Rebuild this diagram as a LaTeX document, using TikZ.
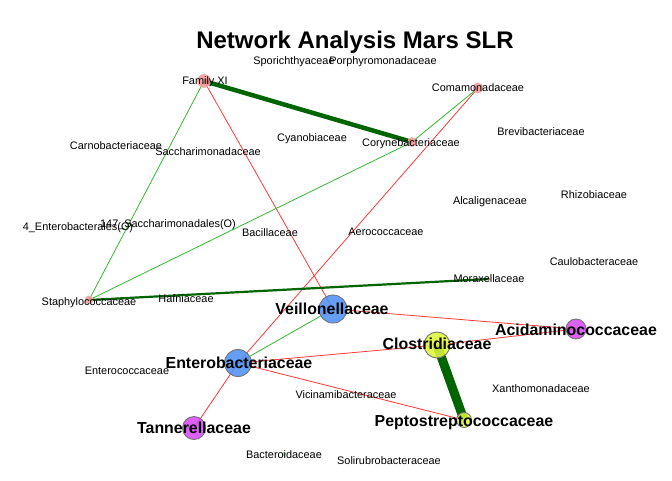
\documentclass[tikz,border=0pt]{standalone}
\usepackage{fontspec}
\setmainfont{Liberation Sans}
\definecolor{egreen}{RGB}{50,185,50}
\definecolor{ered}{RGB}{255,55,55}
\definecolor{dkgreen}{RGB}{0,100,0}
\definecolor{nblue}{RGB}{80,145,245}
\definecolor{nmag}{RGB}{215,75,245}
\definecolor{nyel}{RGB}{222,245,60}
\definecolor{npink}{RGB}{240,150,150}
\definecolor{nlgreen}{RGB}{150,230,160}
\tikzset{
  vtx/.style={circle, draw=gray!90!black, line width=0.9pt, inner sep=0pt, fill opacity=0.88},
  pvtx/.style={circle, draw=npink!80!white, line width=0.6pt, inner sep=0pt, fill=npink, fill opacity=0.85},
  lab/.style={inner sep=0pt, anchor=center, text height=7.7pt, text depth=0pt, font=\fontsize{10.9}{12}\selectfont},
  blab/.style={inner sep=0pt, anchor=center, text height=11.4pt, text depth=0pt, font=\fontsize{15.9}{17}\selectfont\bfseries},
  thinG/.style={egreen, line width=0.8pt},
  thinR/.style={ered, line width=0.8pt},
  thickG/.style={dkgreen, line width=#1},
}
\begin{document}
\begin{tikzpicture}[x=1pt,y=-1pt]
\useasboundingbox (0,0) rectangle (672,480);
% node positions
\coordinate (famxi) at (204,81);
\coordinate (comam) at (478,88);
\coordinate (coryne) at (412,142);
\coordinate (staph) at (89,300);
\coordinate (morax) at (489,279);
\coordinate (veil) at (333,309);
\coordinate (entero) at (238,363);
\coordinate (tann) at (194,428);
\coordinate (clos) at (437,345);
\coordinate (pepto) at (464,420);
\coordinate (acid) at (576,329);
\coordinate (bacter) at (284,454);
% edges
\draw[thickG=4.5pt] (famxi) -- (coryne);
\draw[thinG] (famxi) -- (staph);
\draw[thinR] (famxi) -- (veil);
\draw[thinG] (comam) -- (coryne);
\draw[thinR] (comam) -- (entero);
\draw[thinG] (coryne) -- (staph);
\draw[thickG=2.2pt] (staph) -- (morax);
\draw[thinG] (veil) -- (entero);
\draw[thinR] (veil) -- (acid);
\draw[thinR] (entero) -- (clos);
\draw[thinR] (entero) -- (pepto);
\draw[thinR] (entero) -- (tann);
\draw[thinR] (clos) -- (acid);
\draw[thickG=9pt] (clos) -- (pepto);
% vertices
\node[pvtx, minimum size=13pt] (famxiV) at (famxi) {};
\node[pvtx, minimum size=10pt] (comamV) at (comam) {};
\node[pvtx, minimum size=9pt] (coryneV) at (coryne) {};
\node[pvtx, minimum size=8pt] (staphV) at (staph) {};
\node[pvtx, minimum size=3pt, draw=none] (moraxV) at (morax) {};
\node[circle, inner sep=0pt, minimum size=4pt, fill=nlgreen] (bacterV) at (bacter) {};
\node[vtx, fill=nblue, minimum size=28pt] (veilV) at (veil) {};
\node[vtx, fill=nblue, minimum size=27pt] (enteroV) at (entero) {};
\node[vtx, fill=nmag, minimum size=23pt] (tannV) at (tann) {};
\node[vtx, fill=nyel, minimum size=26pt] (closV) at (clos) {};
\node[vtx, fill=nyel, minimum size=15pt] (peptoV) at (pepto) {};
\node[vtx, fill=nmag, minimum size=20pt] (acidV) at (acid) {};
% title
\node[inner sep=0pt, anchor=base, font=\fontsize{24}{28}\selectfont\bfseries] (title) at (355,48) {Network Analysis Mars SLR};
% small labels
\node[lab] (l1) at (294,61) {Sporichthyaceae};
\node[lab] (l2) at (383,61) {Porphyromonadaceae};
\node[lab] (l3) at (205,81) {Family XI};
\node[lab] (l4) at (478,88) {Comamonadaceae};
\node[lab] (l5) at (541,132) {Brevibacteriaceae};
\node[lab] (l6) at (312,138) {Cyanobiaceae};
\node[lab] (l7) at (411,143) {Corynebacteriaceae};
\node[lab] (l8) at (116,146) {Carnobacteriaceae};
\node[lab] (l9) at (208,152) {Saccharimonadaceae};
\node[lab] (l10) at (490,201) {Alcaligenaceae};
\node[lab] (l11) at (594,195) {Rhizobiaceae};
\node[lab] (l12) at (78,227) {4\_Enterobacterales(O)};
\node[lab] (l13) at (168,224) {147\_Saccharimonadales(O)};
\node[lab] (l14) at (270,233) {Bacillaceae};
\node[lab] (l15) at (386,232) {Aerococcaceae};
\node[lab] (l16) at (594,262) {Caulobacteraceae};
\node[lab] (l17) at (489,279) {Moraxellaceae};
\node[lab] (l18) at (89,302) {Staphylococcaceae};
\node[lab] (l19) at (186,299) {Hafniaceae};
\node[lab] (l20) at (127,371) {Enterococcaceae};
\node[lab] (l21) at (346,395) {Vicinamibacteraceae};
\node[lab] (l22) at (541,389) {Xanthomonadaceae};
\node[lab] (l23) at (284,455) {Bacteroidaceae};
\node[lab] (l24) at (389,461) {Solirubrobacteraceae};
% bold labels
\node[blab] (b1) at (332,309) {Veillonellaceae};
\node[blab] (b2) at (576,330) {Acidaminococcaceae};
\node[blab] (b3) at (437,344) {Clostridiaceae};
\node[blab] (b4) at (239,363) {Enterobacteriaceae};
\node[blab] (b5) at (464,421) {Peptostreptococcaceae};
\node[blab] (b6) at (194,428) {Tannerellaceae};
\end{tikzpicture}
\end{document}
